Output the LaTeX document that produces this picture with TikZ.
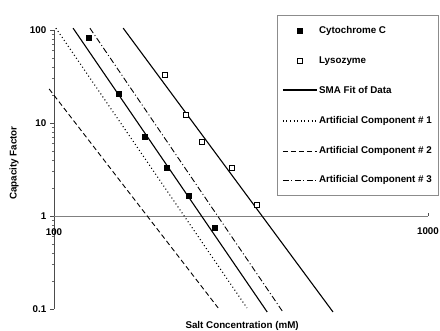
\documentclass[tikz,border=0pt]{standalone}
\usepackage{fontspec}
\setmainfont{Liberation Sans}
\usetikzlibrary{positioning}

\tikzset{
  lbl/.style={font=\bfseries\fontsize{9.8}{11}\selectfont, inner sep=0pt},
  fitline/.style={line width=1.1pt},
  compone/.style={line width=1.1pt, dash pattern=on 1pt off 2.6pt},
  comptwo/.style={line width=0.9pt, dash pattern=on 5pt off 3pt},
  compthree/.style={line width=0.9pt, dash pattern=on 6pt off 2.5pt on 1pt off 2.5pt},
  cytmark/.style={fill=black, minimum size=5.5pt, inner sep=0pt},
  lysmark/.style={draw=black, fill=white, line width=0.9pt, minimum size=5pt, inner sep=0pt},
}

\begin{document}
\begin{tikzpicture}[x=374pt,y=93pt]
\useasboundingbox (-0.1444,-1.2366) rectangle (1.0321,2.3226);
\fill[white] (-0.1444,-1.2366) rectangle (1.0321,2.3226);

% Axes (log scale, origin at 100 mM / k = 1)
\draw[black!70, line width=0.5pt] (0,2) -- (0,-1);
\draw[black!50, line width=0.6pt] (0,0) -- (1,0);
\draw[black!70, line width=0.5pt] (1,0) -- (1,0.032);
\foreach \v in {-1,0,1,2}
  \draw[black!70, line width=0.5pt] (-0.01,\v) -- (0,\v);
\foreach \d in {-1,0,1}
  \foreach \m in {2,...,9}
    \draw[black!60, line width=0.4pt] (-0.006,{\d+log10(\m)}) -- (0,{\d+log10(\m)});
\foreach \v/\t in {2/100,1/10,0/1,-1/0.1}
  \node[lbl, anchor=east] (ytick\v) at (-0.02,\v) {\t};
\node[lbl] (xtick100) at (0,-0.172) {100};
\node[lbl] (xtick1000) at (1,-0.161) {1000};
\node[lbl, rotate=90] (ytitle) at (-0.107,0.57) {Capacity Factor};
\node[lbl] (xtitle) at (0.503,-1.18) {Salt Concentration (mM)};

% Fits and artificial components
\draw[compone] (0.005,2.02) -- (0.516,-0.989);
\draw[fitline] (0.051,2.02) -- (0.570,-1.032);
\draw[compthree] (0.096,2.02) -- (0.612,-1.032);
\draw[fitline] (0.185,2.02) -- (0.746,-1.032);
\draw[comptwo] (-0.013,1.366) -- (0.439,-0.989);

% Data
\foreach \x/\y [count=\i] in {0.094/1.914, 0.174/1.312, 0.243/0.849, 0.302/0.516, 0.361/0.215, 0.431/-0.129}
  \node[cytmark] (cyt\i) at (\x,\y) {};
\foreach \x/\y [count=\i] in {0.297/1.516, 0.353/1.086, 0.396/0.796, 0.476/0.516, 0.543/0.118}
  \node[lysmark] (lys\i) at (\x,\y) {};

% Legend
\coordinate (legtl) at (0.596,2.161);
\begin{scope}[shift={(legtl)}, x=1pt, y=1pt]
\draw[black!45, line width=0.5pt] (0,0) rectangle (161,-180);
\node[cytmark] (legcyt) at (23,-16) {};
\node[lbl, anchor=west] (legcyttxt) at (42,-16) {Cytochrome C};
\node[lysmark] (leglys) at (23,-46) {};
\node[lbl, anchor=west] (leglystxt) at (42,-46) {Lysozyme};
\draw[fitline] (6,-75) -- (40,-75);
\node[lbl, anchor=west] (legfittxt) at (42,-75) {SMA Fit of Data};
\draw[compone] (6,-106) -- (40,-106);
\node[lbl, anchor=west] (legonetxt) at (42,-106) {Artificial Component \# 1};
\draw[comptwo] (6,-136) -- (40,-136);
\node[lbl, anchor=west] (legtwotxt) at (42,-136) {Artificial Component \# 2};
\draw[compthree] (6,-165) -- (40,-165);
\node[lbl, anchor=west] (legthreetxt) at (42,-165) {Artificial Component \# 3};
\end{scope}
\end{tikzpicture}
\end{document}
